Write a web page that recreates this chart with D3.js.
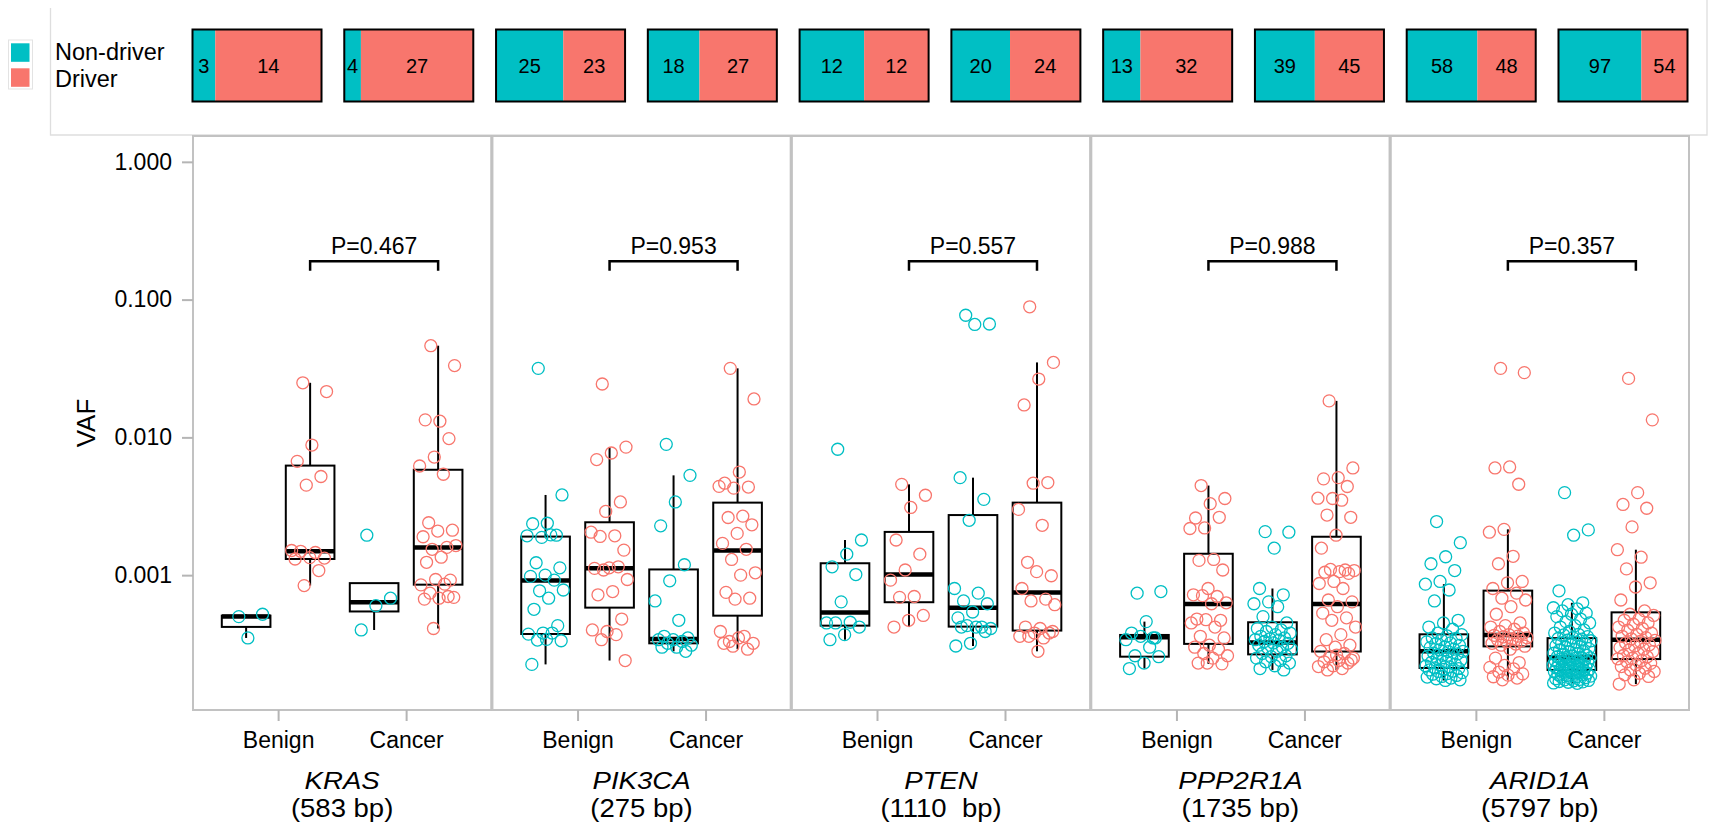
<!DOCTYPE html>
<html>
<head>
<meta charset="utf-8">
<script src="https://cdn.jsdelivr.net/npm/d3@7"></script>
<style>
body { margin: 0; background: #fff; }
text { font-family: "Liberation Sans", Arial, sans-serif; fill: #000; }
</style>
</head>
<body>
<div id="chart"></div>
<script>
'use strict';

// categories
const genes = ["KRAS", "PIK3CA", "PTEN", "PPP2R1A", "ARID1A"];
const geneSizes = ["(583 bp)", "(275 bp)", "(1110  bp)", "(1735 bp)", "(5797 bp)"];
const statuses = ["Benign", "Cancer"];
const driverTypes = ["Non-driver", "Driver"];
const pValues = ["P=0.467", "P=0.953", "P=0.557", "P=0.988", "P=0.357"];
const yTicks = [1, 0.1, 0.01, 0.001];

// counts in the top strip (one box per gene x status)
const nonDriverCounts = [3, 4, 25, 18, 12, 20, 13, 39, 58, 97];
const driverCounts = [14, 27, 23, 27, 12, 24, 32, 45, 48, 54];

// VAF per mutation
const krasBenignNon = [5.0e-4, 5.2e-4, 3.5e-4];
const krasBenignDrv = [0.0249, 0.0215, 0.0088, 0.0067, 0.0052, 0.0045, 0.00151, 0.00146, 0.00149, 0.00133, 0.00134, 0.00131, 0.00108, 0.00084];
const krasCancerNon = [0.00195, 0.00068, 0.0006, 0.0004];
const krasCancerDrv = [0.0463, 0.0332, 0.0131, 0.0134, 0.0098, 0.0072, 0.0062, 0.0054, 0.0024, 0.00212, 0.00209, 0.0019, 0.00159, 0.00154, 0.00164, 0.00135, 0.00124, 0.00092, 0.00093, 0.00085, 0.00086, 0.00074, 0.00069, 0.00068, 0.00067, 0.0007, 0.00041];

const pik3caBenignNon = [0.0317, 0.00382, 0.00238, 0.00236, 0.00195, 0.00188, 0.00193, 0.00196, 0.00123, 0.00113, 0.001, 0.00098, 0.00092, 0.00077, 0.00078, 0.00068, 0.000565, 0.00043, 0.00038, 0.000373, 0.00038, 0.000338, 0.000334, 0.000342, 0.000225];
const pik3caBenignDrv = [0.0244, 0.0085, 0.0077, 0.0069, 0.0034, 0.0029, 0.00205, 0.00193, 0.00191, 0.00152, 0.00113, 0.00112, 0.00115, 0.00109, 0.00093, 0.00076, 0.00072, 0.00048, 0.00039, 0.0004, 0.00037, 0.00034, 0.00024];
const pik3caCancerNon = [0.0089, 0.0053, 0.0034, 0.00228, 0.00119, 0.00091, 0.00065, 0.00047, 0.00036, 0.00035, 0.00034, 0.00034, 0.00033, 0.00032, 0.00031, 0.0003, 0.0003, 0.00028];
const pik3caCancerDrv = [0.0317, 0.019, 0.0056, 0.00465, 0.00436, 0.00428, 0.00441, 0.00268, 0.00262, 0.00232, 0.00201, 0.0017, 0.00154, 0.0013, 0.00104, 0.001, 0.00075, 0.00068, 0.00067, 0.00039, 0.00036, 0.00033, 0.00032, 0.00035, 0.00032, 0.00029, 0.000305];

const ptenBenignNon = [0.0082, 0.0018, 0.00142, 0.00115, 0.00101, 0.00064, 0.00045, 0.000455, 0.00045, 0.00042, 0.00037, 0.00034];
const ptenBenignDrv = [0.00456, 0.0038, 0.0031, 0.0018, 0.00142, 0.00109, 0.00092, 0.0007, 0.00069, 0.00051, 0.00047, 0.00042];
const ptenCancerNon = [0.077, 0.0665, 0.066, 0.0051, 0.00355, 0.0025, 0.0008, 0.00074, 0.00065, 0.00062, 0.00054, 0.00049, 0.00042, 0.00043, 0.00041, 0.00042, 0.00042, 0.00039, 0.00032, 0.000306];
const ptenCancerDrv = [0.0887, 0.035, 0.0265, 0.0172, 0.0047, 0.00465, 0.003, 0.0023, 0.00124, 0.00099, 0.00106, 0.0008, 0.00067, 0.00065, 0.00061, 0.00041, 0.00042, 0.00038, 0.00038, 0.00036, 0.00035, 0.00036, 0.00039, 0.00028];

const ppp2r1aBenignNon = [0.00074, 0.00076, 0.00046, 0.00038, 0.00035, 0.00036, 0.00034, 0.0003, 0.00026, 0.000256, 0.00023, 0.00021, 0.00035];
const ppp2r1aBenignDrv = [0.00447, 0.0036, 0.0033, 0.0026, 0.00263, 0.0022, 0.00218, 0.0013, 0.00128, 0.00109, 0.0008, 0.00072, 0.0007, 0.00071, 0.00063, 0.00062, 0.00048, 0.00047, 0.000475, 0.00045, 0.00042, 0.00036, 0.00035, 0.00031, 0.0003, 0.00029, 0.00027, 0.00026, 0.00025, 0.00023, 0.000227, 0.00023];
const ppp2r1aCancerNon = [0.00207, 0.00205, 0.00157, 0.0008, 0.00072, 0.00064, 0.00062, 0.00059, 0.0005, 0.00045, 0.00042, 0.00041, 0.0004, 0.00039, 0.00038, 0.00037, 0.00036, 0.00035, 0.000345, 0.00034, 0.000338, 0.00033, 0.00032, 0.000322, 0.00031, 0.0003, 0.000296, 0.00029, 0.00028, 0.00027, 0.00026, 0.000256, 0.00025, 0.00024, 0.000235, 0.00023, 0.00022, 0.00021, 0.000205];
const ppp2r1aCancerDrv = [0.0184, 0.006, 0.0051, 0.005, 0.0044, 0.0036, 0.00362, 0.0035, 0.00273, 0.00263, 0.00195, 0.00157, 0.00109, 0.0011, 0.00108, 0.00106, 0.00105, 0.00103, 0.0009, 0.00087, 0.0008, 0.00066, 0.00064, 0.00059, 0.00053, 0.00049, 0.00047, 0.00042, 0.00037, 0.00034, 0.00031, 0.0003, 0.00028, 0.00027, 0.000256, 0.00025, 0.00024, 0.000235, 0.00023, 0.00022, 0.000217, 0.00021, 0.000205, 0.000242, 0.000263];

const arid1aBenignNon = [0.00245, 0.00172, 0.00136, 0.00121, 0.00108, 0.0009, 0.00086, 0.00078, 0.00065, 0.00047, 0.00045, 0.00042, 0.000405, 0.00038,
    0.00037, 0.000362, 0.00035, 0.000347, 0.00034, 0.000328, 0.000322, 0.000318, 0.000309, 0.000301, 0.000298, 0.00029, 0.000287, 0.00028,
    0.000279, 0.000272, 0.000268, 0.000262, 0.000259, 0.000251, 0.000248, 0.000241, 0.000237, 0.000233, 0.000226, 0.000223, 0.000219, 0.000216, 0.000212,
    0.00021, 0.000207, 0.000205, 0.000201, 0.0002, 0.000196, 0.000193, 0.000191, 0.000187, 0.000184, 0.000182, 0.000179, 0.000177, 0.000174, 0.000172];
const arid1aBenignDrv = [0.0317, 0.0295, 0.0061, 0.006, 0.00457, 0.00215, 0.00205, 0.00137, 0.00121, 0.0009, 0.00088, 0.0008,
    0.00074, 0.00068, 0.00066, 0.00059, 0.00052, 0.00045, 0.00043, 0.00042, 0.000405, 0.00039, 0.00038, 0.00037,
    0.000366, 0.000361, 0.000356, 0.000351, 0.000344, 0.00034, 0.000333, 0.000329, 0.00032, 0.000316, 0.00031, 0.000305,
    0.00029, 0.00025, 0.000232, 0.000221, 0.000214, 0.000209, 0.000198, 0.000192, 0.000188, 0.000183, 0.000179, 0.000174];
const arid1aCancerNon = [0.00397, 0.00213, 0.00195, 0.00077, 0.00063, 0.00061, 0.00058, 0.00057, 0.00055, 0.00053, 0.00052, 0.0005, 0.00048, 0.00046, 0.00045, 0.00043, 0.00042, 0.0004, 0.00039, 0.00038, 0.000372, 0.000368, 0.000358, 0.000352,
    0.000347, 0.000343, 0.000337, 0.000334, 0.000327, 0.000322, 0.000319, 0.000312, 0.000308, 0.000302, 0.000299, 0.000293, 0.000288, 0.000285, 0.000279, 0.000277, 0.000271, 0.000269, 0.000264, 0.000262, 0.000259, 0.000256, 0.000254, 0.000253,
    0.000251, 0.000249, 0.000246, 0.000243, 0.000242, 0.000239, 0.000236, 0.000234, 0.000232, 0.000229, 0.000228, 0.000225, 0.000223, 0.000222, 0.000219, 0.000217, 0.000216, 0.000213, 0.000212, 0.00021, 0.000209, 0.000207, 0.000206, 0.000205,
    0.000204, 0.000202, 0.000199, 0.000198, 0.000196, 0.000194, 0.000193, 0.00019, 0.000189, 0.000187, 0.000185, 0.000183, 0.000182, 0.00018, 0.000178, 0.000177, 0.000175, 0.000174, 0.000172, 0.000171, 0.000169, 0.000168, 0.000167, 0.000165, 0.000164];
const arid1aCancerDrv = [0.0268, 0.0134, 0.00397, 0.00326, 0.00306, 0.00224, 0.00153, 0.00135, 0.00111, 0.00088, 0.00082, 0.00066, 0.00055,
    0.00052, 0.00051, 0.00048, 0.00047, 0.00045, 0.00044, 0.00042, 0.00041, 0.000398, 0.00038, 0.000372, 0.00036, 0.000352, 0.000345,
    0.000336, 0.00033, 0.000322, 0.000312, 0.000306, 0.000298, 0.00029, 0.000286, 0.000279, 0.00027, 0.000261, 0.000256, 0.00025, 0.000247,
    0.00024, 0.000235, 0.000229, 0.000223, 0.000217, 0.000211, 0.000205, 0.0002, 0.000194, 0.000189, 0.000184, 0.000174, 0.000162];

// box statistics per group (gene x status x driver)
const whiskerLow = [3.5e-4, 8.4e-4, 4.0e-4, 4.1e-4, 2.25e-4, 2.4e-4, 2.8e-4, 2.9e-4, 3.4e-4, 4.2e-4, 3.06e-4, 2.8e-4, 2.1e-4, 2.27e-4, 2.05e-4, 2.05e-4, 1.72e-4, 1.74e-4, 1.64e-4, 1.62e-4];
const quart1 = [4.21e-4, 1.31e-3, 5.45e-4, 8.53e-4, 3.74e-4, 5.81e-4, 3.2e-4, 5.08e-4, 4.3e-4, 6.36e-4, 4.23e-4, 3.96e-4, 2.56e-4, 3.17e-4, 2.66e-4, 2.79e-4, 2.12e-4, 3.04e-4, 2.05e-4, 2.46e-4];
const medians = [5.0e-4, 1.49e-3, 6.35e-4, 1.59e-3, 9.13e-4, 1.12e-3, 3.44e-4, 1.51e-3, 5.35e-4, 1.01e-3, 5.81e-4, 7.47e-4, 3.54e-4, 6.18e-4, 3.24e-4, 6.18e-4, 2.8e-4, 3.68e-4, 2.52e-4, 3.4e-4];
const quart3 = [5.08e-4, 6.24e-3, 8.75e-4, 5.82e-3, 1.905e-3, 2.42e-3, 1.1e-3, 3.36e-3, 1.22e-3, 2.06e-3, 2.73e-3, 3.36e-3, 3.68e-4, 1.43e-3, 4.55e-4, 1.9e-3, 3.72e-4, 7.72e-4, 3.49e-4, 5.37e-4];
const whiskerHigh = [5.2e-4, 2.49e-2, 8.75e-4, 4.63e-2, 3.82e-3, 8.5e-3, 5.3e-3, 3.17e-2, 1.8e-3, 4.56e-3, 5.1e-3, 3.5e-2, 4.6e-4, 4.47e-3, 8.0e-4, 1.84e-2, 8.6e-4, 2.15e-3, 6.3e-4, 1.53e-3];

const pointSets = [
    krasBenignNon, krasBenignDrv, krasCancerNon, krasCancerDrv,
    pik3caBenignNon, pik3caBenignDrv, pik3caCancerNon, pik3caCancerDrv,
    ptenBenignNon, ptenBenignDrv, ptenCancerNon, ptenCancerDrv,
    ppp2r1aBenignNon, ppp2r1aBenignDrv, ppp2r1aCancerNon, ppp2r1aCancerDrv,
    arid1aBenignNon, arid1aBenignDrv, arid1aCancerNon, arid1aCancerDrv
];

const colour = d3.scaleOrdinal().domain(driverTypes).range(["#00BFC4", "#F8766D"]);

const groups = pointSets.map((values, k) => ({
    gene: genes[Math.floor(k / 4)],
    status: (k % 4) < 2 ? 0 : 1,
    driver: driverTypes[k % 2],
    values: values,
    lo: whiskerLow[k], q1: quart1[k], med: medians[k], q3: quart3[k], hi: whiskerHigh[k]
}));

const svg = d3.select("#chart").append("svg")
    .attr("width", 1713)
    .attr("height", 825);

//Frame of the top strip (only left, bottom and right edges show)
svg.append("path")
    .attr("d", "M50.5,8V135H1707V0")
    .attr("fill", "none")
    .attr("stroke", "#dedede")
    .attr("stroke-width", 1.3);

//Legend
const legend = svg.append("g");
legend.append("rect")
    .attr("x", 8.5).attr("y", 40).attr("width", 24).attr("height", 49)
    .attr("fill", "none").attr("stroke", "#e3e3e3");
legend.selectAll("rect.key")
    .data(driverTypes)
    .enter().append("rect")
    .attr("class", "key")
    .attr("x", 11).attr("y", (d, i) => 43.3 + i * 25)
    .attr("width", 18.5).attr("height", 18.5)
    .attr("fill", d => colour(d));
legend.selectAll("text")
    .data(driverTypes)
    .enter().append("text")
    .attr("x", 55).attr("y", (d, i) => 60 + i * 26.5)
    .style("font-size", "23.5px")
    .text(d => d);

//Count boxes
const xCount = d3.scaleBand().domain(d3.range(nonDriverCounts.length)).range([192.5, 1687.5]).paddingInner(0.15);
const countGrp = svg.append("g");
nonDriverCounts.forEach(function (n, i) {
    let d = driverCounts[i];
    let s = d3.scaleLinear().domain([0, n + d]).range([xCount(i), xCount(i) + xCount.bandwidth()]);
    let segs = [{type: "Non-driver", a: 0, b: n, v: n}, {type: "Driver", a: n, b: n + d, v: d}];
    let g = countGrp.append("g");
    g.selectAll("rect.seg")
        .data(segs)
        .enter().append("rect")
        .attr("class", "seg")
        .attr("x", e => s(e.a)).attr("width", e => s(e.b) - s(e.a))
        .attr("y", 29.5).attr("height", 72)
        .attr("fill", e => colour(e.type));
    g.selectAll("text")
        .data(segs)
        .enter().append("text")
        .attr("x", e => (s(e.a) + s(e.b)) / 2)
        .attr("y", 66)
        .attr("text-anchor", "middle")
        .attr("dominant-baseline", "central")
        .style("font-size", "20px")
        .text(e => e.v);
    g.append("rect")
        .attr("x", s(0)).attr("width", xCount.bandwidth())
        .attr("y", 29.5).attr("height", 72)
        .attr("fill", "none").attr("stroke", "#000").attr("stroke-width", 2);
});

//Panels
const xPanel = d3.scaleBand().domain(genes).range([193, 1689]).paddingInner(0.004);
const xIn = d3.scaleLinear().domain([0.335, 2.665]).range([0, xPanel.bandwidth()]);
const y = d3.scaleLog().domain([1.05e-4, 1.54]).range([710, 136]);
const halfBox = xIn(1.19) - xIn(1);
const jitterWidth = 0.15;
const dodge = 0.25;

//deterministic spread of the points around their group centre
const jitter = i => ((i * 0.6180339887 + 0.31) % 1 - 0.5) * 2 * jitterWidth;
const centre = gr => gr.status + 1 + (gr.driver === "Driver" ? dodge : -dodge);

genes.forEach(function (gene, gi) {
    let g = svg.append("g")
        .attr("class", "panel")
        .attr("transform", "translate(" + xPanel(gene) + ",0)");

    g.append("rect")
        .attr("x", 0).attr("y", 136)
        .attr("width", xPanel.bandwidth()).attr("height", 574)
        .attr("fill", "none").attr("stroke", "#c2c2c2").attr("stroke-width", 2);

    let grs = groups.filter(gr => gr.gene === gene);

    grs.forEach(function (gr) {
        let cx = xIn(centre(gr));
        let bg = g.append("g");
        bg.append("line")
            .attr("x1", cx).attr("x2", cx).attr("y1", y(gr.q3)).attr("y2", y(gr.hi))
            .attr("stroke", "#000").attr("stroke-width", 2);
        bg.append("line")
            .attr("x1", cx).attr("x2", cx).attr("y1", y(gr.q1)).attr("y2", y(gr.lo))
            .attr("stroke", "#000").attr("stroke-width", 2);
        bg.append("rect")
            .attr("x", cx - halfBox).attr("width", 2 * halfBox)
            .attr("y", y(gr.q3)).attr("height", y(gr.q1) - y(gr.q3))
            .attr("fill", "none").attr("stroke", "#000").attr("stroke-width", 2);
        bg.append("line")
            .attr("x1", cx - halfBox).attr("x2", cx + halfBox)
            .attr("y1", y(gr.med)).attr("y2", y(gr.med))
            .attr("stroke", "#000").attr("stroke-width", 4.5);
    });

    grs.forEach(function (gr) {
        g.append("g").selectAll("circle")
            .data(gr.values)
            .enter().append("circle")
            .attr("cx", (v, i) => xIn(centre(gr) + jitter(i)))
            .attr("cy", v => y(v))
            .attr("r", 6)
            .attr("fill", "none")
            .attr("stroke", colour(gr.driver))
            .attr("stroke-width", 1.3);
    });

    //P-value bracket between the driver groups
    let bx1 = xIn(1 + dodge), bx2 = xIn(2 + dodge);
    g.append("path")
        .attr("d", "M" + bx1 + "," + y(0.162) + "V" + y(0.19) + "H" + bx2 + "V" + y(0.162))
        .attr("fill", "none").attr("stroke", "#000").attr("stroke-width", 2.5);
    g.append("text")
        .attr("x", (bx1 + bx2) / 2).attr("y", y(0.216))
        .attr("text-anchor", "middle")
        .style("font-size", "23px")
        .text(pValues[gi]);

    //x axis
    let ax = g.append("g")
        .attr("transform", "translate(0,710)")
        .call(d3.axisBottom(xIn).tickValues([1, 2]).tickFormat(d => statuses[d - 1]).tickSize(11).tickPadding(11));
    ax.select(".domain").remove();
    ax.selectAll("line").attr("stroke", "#b5b5b5").attr("stroke-width", 2);
    ax.selectAll("text").style("font-size", "23px").attr("fill", "#000");

    //gene name and length, the lettering is a little wider than plain Arial
    g.append("text")
        .attr("transform", "translate(" + xPanel.bandwidth() / 2 + ",789) scale(1.15,1)")
        .attr("text-anchor", "middle")
        .style("font-size", "24px").style("font-style", "italic")
        .text(gene);
    g.append("text")
        .attr("transform", "translate(" + xPanel.bandwidth() / 2 + ",817) scale(1.1,1)")
        .attr("text-anchor", "middle")
        .style("font-size", "25px").style("white-space", "pre")
        .text(geneSizes[gi]);
});

//y axis
const yAxis = svg.append("g")
    .attr("transform", "translate(" + xPanel(genes[0]) + ",0)")
    .call(d3.axisLeft(y).tickValues(yTicks).tickFormat(d3.format(".3f")).tickSize(11).tickPadding(10));
yAxis.select(".domain").remove();
yAxis.selectAll("line").attr("stroke", "#b5b5b5").attr("stroke-width", 2);
yAxis.selectAll("text").style("font-size", "23px").attr("fill", "#000");

svg.append("text")
    .attr("transform", "translate(95,423) rotate(-90)")
    .attr("text-anchor", "middle")
    .style("font-size", "26px")
    .text("VAF");
</script>
</body>
</html>
